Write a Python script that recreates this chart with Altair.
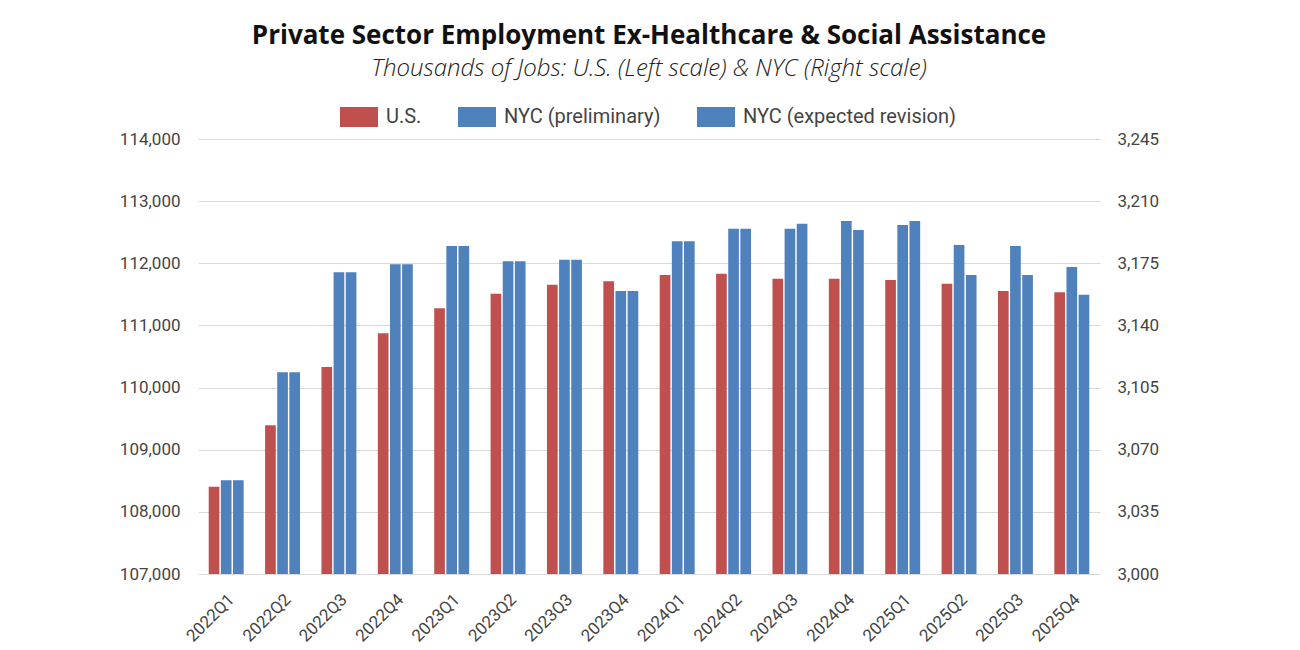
import altair as alt
import pandas as pd

# Quarterly private-sector employment excluding healthcare & social assistance (thousands)
quarters = [
    "2022Q1", "2022Q2", "2022Q3", "2022Q4",
    "2023Q1", "2023Q2", "2023Q3", "2023Q4",
    "2024Q1", "2024Q2", "2024Q3", "2024Q4",
    "2025Q1", "2025Q2", "2025Q3", "2025Q4",
]
us_jobs = [
    108405, 109393, 110331, 110873,
    111276, 111511, 111656, 111710,
    111812, 111833, 111753, 111753,
    111731, 111672, 111554, 111533,
]
nyc_preliminary = [
    3052.8, 3113.6, 3169.9, 3174.4,
    3184.7, 3176.1, 3177.0, 3159.4,
    3187.4, 3194.5, 3194.5, 3198.8,
    3196.6, 3185.3, 3184.7, 3172.9,
]
nyc_revision = [
    3052.8, 3113.6, 3169.9, 3174.4,
    3184.7, 3176.1, 3177.0, 3159.4,
    3187.4, 3194.5, 3197.3, 3193.8,
    3198.8, 3168.4, 3168.4, 3157.3,
]

series_order = ["U.S.", "NYC (preliminary)", "NYC (expected revision)"]
series_colors = ["#c0504d", "#4f81bd", "#4f81bd"]

left_ticks = list(range(107000, 114001, 1000))
right_ticks = list(range(3000, 3246, 35))

rows = []
for name, values in zip(series_order, [us_jobs, nyc_preliminary, nyc_revision]):
    for q, v in zip(quarters, values):
        rows.append({"quarter": q, "series": name, "value": v})
df = pd.DataFrame(rows)

FONT = "Roboto"
TEXT = "#444444"

x_enc = alt.X(
    "quarter:N",
    sort=quarters,
    scale=alt.Scale(paddingInner=0.38, paddingOuter=0.19),
    axis=alt.Axis(
        title=None, labelAngle=-45, labelFont=FONT, labelFontSize=17,
        labelColor=TEXT, domain=False, ticks=False, labelPadding=17,
        grid=False,
    ),
)
offset_enc = alt.XOffset(
    "series:N",
    sort=series_order,
    scale=alt.Scale(domain=series_order, paddingInner=0.12, paddingOuter=0),
)
color_enc = alt.Color(
    "series:N",
    sort=series_order,
    scale=alt.Scale(domain=series_order, range=series_colors),
    legend=alt.Legend(
        title=None, orient="none", direction="horizontal",
        legendX=151, legendY=-32,
        symbolType="M-1.9,-1H1.9V1H-1.9Z", symbolSize=400,
        symbolStrokeWidth=0, symbolOpacity=1,
        labelFont=FONT, labelFontSize=20, labelColor=TEXT,
        labelOffset=17, columnPadding=36, labelLimit=400,
    ),
)

base = alt.Chart(df)

us_bars = base.transform_filter(alt.datum.series == "U.S.").mark_bar().encode(
    x=x_enc,
    xOffset=offset_enc,
    color=color_enc,
    y=alt.Y(
        "value:Q",
        scale=alt.Scale(domain=[107000, 114000], zero=False, nice=False),
        axis=alt.Axis(
            orient="left", title=None, values=left_ticks, format=",.0f",
            labelFont=FONT, labelFontSize=17, labelColor=TEXT,
            domain=False, ticks=False, labelPadding=18,
            grid=True, gridColor="#d9d9d9", gridWidth=1,
        ),
    ),
    y2=alt.datum(107000),
)

nyc_bars = base.transform_filter(alt.datum.series != "U.S.").mark_bar().encode(
    x=x_enc,
    xOffset=offset_enc,
    color=color_enc,
    y=alt.Y(
        "value:Q",
        scale=alt.Scale(domain=[3000, 3245], zero=False, nice=False),
        axis=alt.Axis(
            orient="right", title=None, values=right_ticks, format=",.0f",
            labelFont=FONT, labelFontSize=17, labelColor=TEXT,
            domain=False, ticks=False, labelPadding=17, grid=False,
        ),
    ),
    y2=alt.datum(3000),
)

chart = (
    alt.layer(us_bars, nyc_bars)
    .resolve_scale(y="independent")
    .properties(
        width=902,
        height=435,
        background="white",
        autosize=alt.AutoSizeParams(type="none"),
        padding={"left": 198, "top": 139, "right": 200, "bottom": 76},
        title=alt.TitleParams(
            text="Private Sector Employment Ex-Healthcare & Social Assistance",
            subtitle="Thousands of Jobs: U.S. (Left scale) & NYC (Right scale)",
            font="Open Sans", fontSize=26, fontWeight="bold", color="#111111",
            subtitleFont="Open Sans", subtitleFontSize=24,
            subtitleFontStyle="italic", subtitleFontWeight=300,
            subtitleColor="#222222",
            subtitlePadding=8, anchor="middle", offset=26,
        ),
    )
    .configure_view(stroke=None, strokeWidth=0)
)

chart.save("out.html", embed_options={"renderer": "svg", "actions": False})
